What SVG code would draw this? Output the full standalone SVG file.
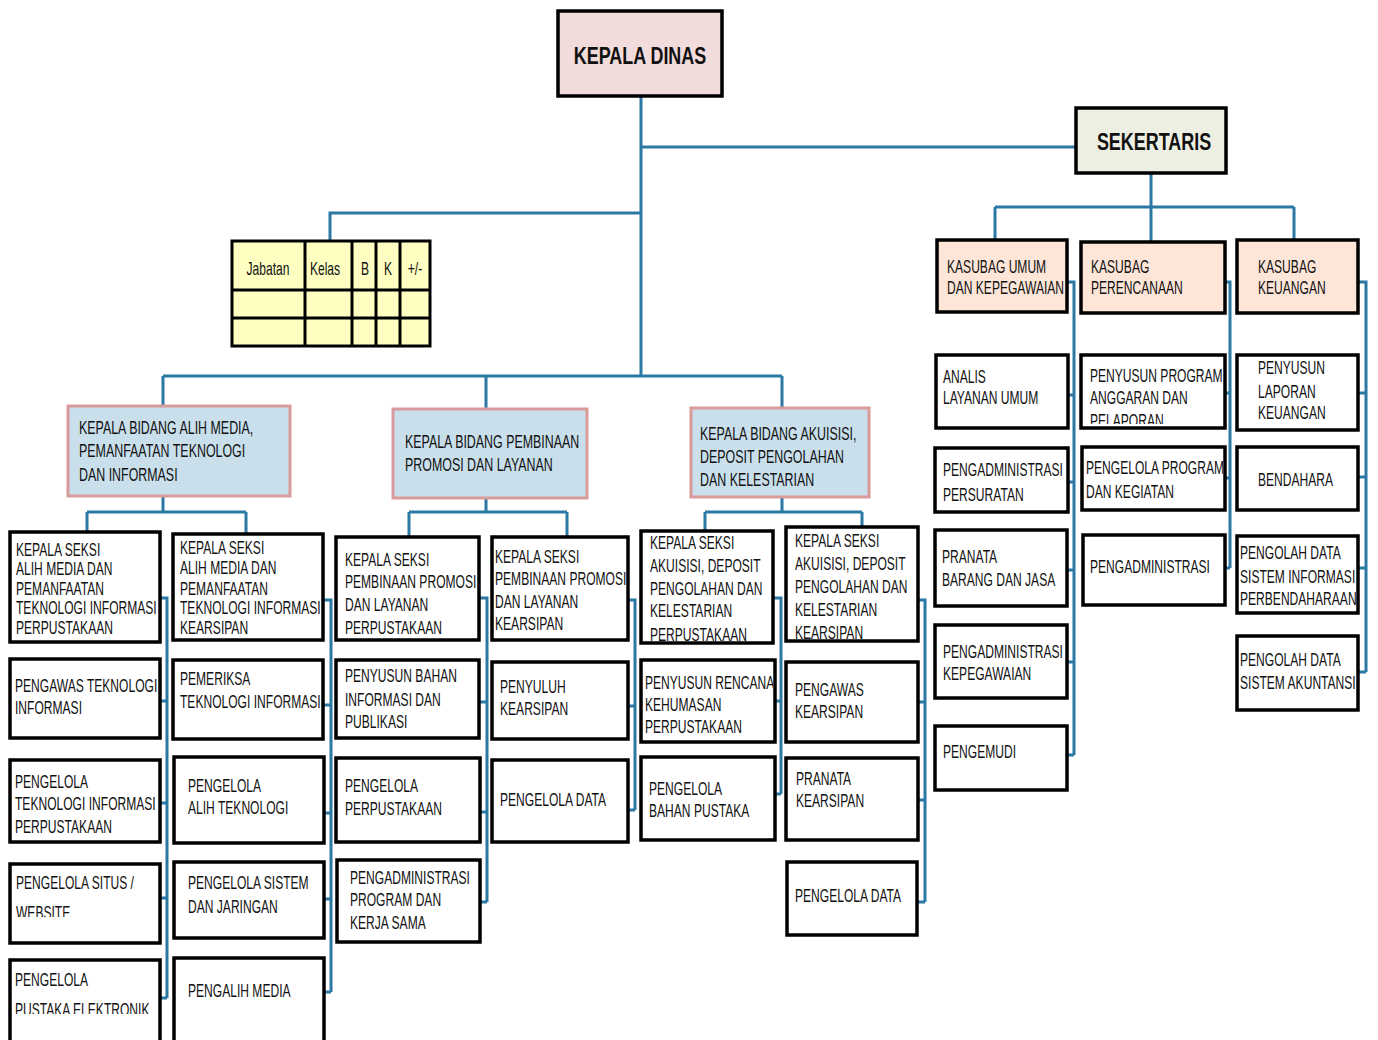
<svg xmlns="http://www.w3.org/2000/svg" width="1378" height="1040" viewBox="0 0 1378 1040">
<style>
.b{fill:#fff;stroke:#000;stroke-width:3.5}
.kd{fill:#f2dcdb;stroke:#000;stroke-width:3.5}
.sk{fill:#eeefe3;stroke:#000;stroke-width:3.5}
.ks{fill:#fde6d8;stroke:#000;stroke-width:3.5}
.bd{fill:#c9dfec;stroke:#d99a9a;stroke-width:3}
.tb{fill:#ffffc2;stroke:#000;stroke-width:3}
.t{font-family:"Liberation Sans Narrow","Arial Narrow","Liberation Sans",sans-serif;font-size:17.5px;fill:#111;transform-box:fill-box;transform-origin:0 50%;transform:scaleX(0.69)}
.tbd{font-size:18px}
.big{font-family:"Liberation Sans Narrow","Arial Narrow","Liberation Sans",sans-serif;font-size:23px;font-weight:bold;fill:#111;text-anchor:middle;transform-box:fill-box;transform-origin:50% 50%;transform:scaleX(0.78)}
.t.mid{text-anchor:middle;transform-origin:50% 50%}
#connectors path{fill:none;stroke:#2b78a5;stroke-width:3}
</style>
<rect width="1378" height="1040" fill="#fff"/>
<g id="connectors">
<path d="M641,96 V376 M641,147 H1076 M641,213 H330 V241 M163,376 H782 M163,376 V406 M486,376 V409 M782,376 V408"/>
<path d="M163,496 V512 M87,512 H246 M87,512 V532 M246,512 V534"/>
<path d="M160,598 H167 V998 M160,701 H167 M160,803 H167 M160,898 H167 M160,998 H167"/>
<path d="M324,600 H331 V992 M324,705 H331 M324,813 H331 M324,899 H331 M324,992 H331"/>
<path d="M486,498 V512 M409,512 H567 M409,512 V537 M567,512 V537"/>
<path d="M479,598 H487 V902 M479,702 H487 M480,812 H487 M480,902 H487"/>
<path d="M628,600 H635 V810 M628,706 H635 M628,810 H635"/>
<path d="M782,497 V512 M705,512 H862 M705,512 V531 M862,512 V527"/>
<path d="M773,598 H781 V794 M775,701 H781 M775,794 H781"/>
<path d="M918,600 H925 V902 M918,702 H925 M918,800 H925 M917,902 H925"/>
<path d="M1151,173 V207 M995,207 H1294 M995,207 V240 M1151,207 V242 M1294,207 V240"/>
<path d="M1067,282 H1074 V755 M1068,395 H1074 M1068,482 H1074 M1067,570 H1074 M1067,662 H1074 M1067,755 H1074"/>
<path d="M1225,282 H1230 V568 M1225,393 H1230 M1225,478 H1230 M1225,568 H1230"/>
<path d="M1358,282 H1366 V672 M1358,393 H1366 M1358,477 H1366 M1358,568 H1366 M1358,672 H1366"/>
</g>

<g id="kepala-dinas"><rect class="kd" x="558" y="11" width="164" height="85"/><text class="big" x="640" y="64">KEPALA DINAS</text></g>
<g id="sekertaris"><rect class="sk" x="1076" y="108" width="150" height="65"/><text class="big" x="1154" y="150">SEKERTARIS</text></g>

<g id="tabel">
<rect class="tb" x="232" y="241" width="198" height="105"/>
<path d="M232,290 H430 M232,318 H430 M305,241 V346 M352,241 V346 M376,241 V346 M400,241 V346" stroke="#000" stroke-width="3" fill="none"/>
<text class="t mid" x="268" y="275">Jabatan</text>
<text class="t mid" x="325" y="275">Kelas</text>
<text class="t mid" x="365" y="275">B</text>
<text class="t mid" x="388" y="275">K</text>
<text class="t mid" x="415" y="275">+/-</text>
</g>

<g id="bidang-1"><rect class="bd" x="68" y="406" width="222" height="90"/><text class="t tbd"><tspan x="79" y="434">KEPALA BIDANG ALIH MEDIA,</tspan><tspan x="79" y="457">PEMANFAATAN TEKNOLOGI</tspan><tspan x="79" y="481">DAN INFORMASI</tspan></text></g>
<g id="bidang-2"><rect class="bd" x="393" y="409" width="194" height="89"/><text class="t tbd"><tspan x="405" y="448">KEPALA BIDANG PEMBINAAN</tspan><tspan x="405" y="471">PROMOSI DAN LAYANAN</tspan></text></g>
<g id="bidang-3"><rect class="bd" x="691" y="408" width="178" height="89"/><text class="t tbd"><tspan x="700" y="440">KEPALA BIDANG AKUISISI,</tspan><tspan x="700" y="463">DEPOSIT PENGOLAHAN</tspan><tspan x="700" y="486">DAN KELESTARIAN</tspan></text></g>

<g id="seksi-1"><rect class="b" x="10" y="532" width="150" height="110"/><svg x="12" y="534" width="146" height="106" viewBox="12 534 146 106"><text class="t"><tspan x="16" y="556">KEPALA SEKSI</tspan><tspan x="16" y="575">ALIH MEDIA DAN</tspan><tspan x="16" y="595">PEMANFAATAN</tspan><tspan x="16" y="614">TEKNOLOGI INFORMASI</tspan><tspan x="16" y="634">PERPUSTAKAAN</tspan></text></svg></g>
<g id="seksi-2"><rect class="b" x="173" y="534" width="150" height="106"/><svg x="175" y="536" width="146" height="102" viewBox="175 536 146 102"><text class="t"><tspan x="180" y="554">KEPALA SEKSI</tspan><tspan x="180" y="574">ALIH MEDIA DAN</tspan><tspan x="180" y="595">PEMANFAATAN</tspan><tspan x="180" y="614">TEKNOLOGI INFORMASI</tspan><tspan x="180" y="634">KEARSIPAN</tspan></text></svg></g>
<g id="pengawas-ti"><rect class="b" x="10" y="659" width="150" height="79"/><svg x="12" y="661" width="146" height="75" viewBox="12 661 146 75"><text class="t"><tspan x="15" y="692">PENGAWAS TEKNOLOGI</tspan><tspan x="15" y="714">INFORMASI</tspan></text></svg></g>
<g id="pengelola-ti"><rect class="b" x="10" y="760" width="150" height="82"/><svg x="12" y="762" width="146" height="78" viewBox="12 762 146 78"><text class="t"><tspan x="15" y="788">PENGELOLA</tspan><tspan x="15" y="810">TEKNOLOGI INFORMASI</tspan><tspan x="15" y="833">PERPUSTAKAAN</tspan></text></svg></g>
<g id="pengelola-situs"><rect class="b" x="10" y="864" width="150" height="79"/><svg x="12" y="866" width="146" height="51" viewBox="12 866 146 51"><text class="t"><tspan x="16" y="889">PENGELOLA SITUS /</tspan><tspan x="16" y="919">WEBSITE</tspan></text></svg></g>
<g id="pengelola-pustaka"><rect class="b" x="10" y="960" width="150" height="82"/><svg x="12" y="962" width="146" height="52" viewBox="12 962 146 52"><text class="t"><tspan x="15" y="986">PENGELOLA</tspan><tspan x="15" y="1016">PUSTAKA ELEKTRONIK</tspan></text></svg></g>
<g id="pemeriksa-ti"><rect class="b" x="173" y="660" width="150" height="79"/><svg x="175" y="662" width="146" height="75" viewBox="175 662 146 75"><text class="t"><tspan x="180" y="685">PEMERIKSA</tspan><tspan x="180" y="708">TEKNOLOGI INFORMASI</tspan></text></svg></g>
<g id="pengelola-alih"><rect class="b" x="174" y="757" width="150" height="86"/><svg x="176" y="759" width="146" height="82" viewBox="176 759 146 82"><text class="t"><tspan x="188" y="792">PENGELOLA</tspan><tspan x="188" y="814">ALIH TEKNOLOGI</tspan></text></svg></g>
<g id="pengelola-sistem"><rect class="b" x="174" y="862" width="150" height="76"/><svg x="176" y="864" width="146" height="72" viewBox="176 864 146 72"><text class="t"><tspan x="188" y="889">PENGELOLA SISTEM</tspan><tspan x="188" y="913">DAN JARINGAN</tspan></text></svg></g>
<g id="pengalih-media"><rect class="b" x="174" y="958" width="150" height="86"/><text class="t" x="188" y="997">PENGALIH MEDIA</text></g>

<g id="seksi-3"><rect class="b" x="336" y="537" width="143" height="103"/><svg x="338" y="539" width="139" height="99" viewBox="338 539 139 99"><text class="t"><tspan x="345" y="566">KEPALA SEKSI</tspan><tspan x="345" y="588">PEMBINAAN PROMOSI</tspan><tspan x="345" y="611">DAN LAYANAN</tspan><tspan x="345" y="634">PERPUSTAKAAN</tspan></text></svg></g>
<g id="seksi-4"><rect class="b" x="492" y="537" width="136" height="103"/><svg x="494" y="539" width="132" height="99" viewBox="494 539 132 99"><text class="t"><tspan x="495" y="563">KEPALA SEKSI</tspan><tspan x="495" y="585">PEMBINAAN PROMOSI</tspan><tspan x="495" y="608">DAN LAYANAN</tspan><tspan x="495" y="630">KEARSIPAN</tspan></text></svg></g>
<g id="penyusun-bahan"><rect class="b" x="336" y="660" width="143" height="78"/><text class="t"><tspan x="345" y="682">PENYUSUN BAHAN</tspan><tspan x="345" y="706">INFORMASI DAN</tspan><tspan x="345" y="728">PUBLIKASI</tspan></text></g>
<g id="pengelola-perpustakaan"><rect class="b" x="336" y="758" width="144" height="84"/><text class="t"><tspan x="345" y="792">PENGELOLA</tspan><tspan x="345" y="815">PERPUSTAKAAN</tspan></text></g>
<g id="pengadministrasi-program"><rect class="b" x="337" y="860" width="143" height="82"/><text class="t"><tspan x="350" y="884">PENGADMINISTRASI</tspan><tspan x="350" y="906">PROGRAM DAN</tspan><tspan x="350" y="929">KERJA SAMA</tspan></text></g>
<g id="penyuluh"><rect class="b" x="492" y="662" width="136" height="77"/><text class="t"><tspan x="500" y="693">PENYULUH</tspan><tspan x="500" y="715">KEARSIPAN</tspan></text></g>
<g id="pengelola-data-1"><rect class="b" x="492" y="760" width="136" height="82"/><text class="t" x="500" y="806">PENGELOLA DATA</text></g>

<g id="seksi-5"><rect class="b" x="641" y="531" width="132" height="112"/><svg x="643" y="533" width="128" height="108" viewBox="643 533 128 108"><text class="t"><tspan x="650" y="549">KEPALA SEKSI</tspan><tspan x="650" y="572">AKUISISI, DEPOSIT</tspan><tspan x="650" y="595">PENGOLAHAN DAN</tspan><tspan x="650" y="617">KELESTARIAN</tspan><tspan x="650" y="641">PERPUSTAKAAN</tspan></text></svg></g>
<g id="seksi-6"><rect class="b" x="786" y="527" width="132" height="114"/><svg x="788" y="529" width="128" height="110" viewBox="788 529 128 110"><text class="t"><tspan x="795" y="547">KEPALA SEKSI</tspan><tspan x="795" y="570">AKUISISI, DEPOSIT</tspan><tspan x="795" y="593">PENGOLAHAN DAN</tspan><tspan x="795" y="616">KELESTARIAN</tspan><tspan x="795" y="639">KEARSIPAN</tspan></text></svg></g>
<g id="penyusun-rencana"><rect class="b" x="641" y="660" width="134" height="82"/><svg x="643" y="662" width="130" height="78" viewBox="643 662 130 78"><text class="t"><tspan x="645" y="689">PENYUSUN RENCANA</tspan><tspan x="645" y="711">KEHUMASAN</tspan><tspan x="645" y="733">PERPUSTAKAAN</tspan></text></svg></g>
<g id="pengelola-bahan"><rect class="b" x="641" y="757" width="134" height="83"/><text class="t"><tspan x="649" y="795">PENGELOLA</tspan><tspan x="649" y="817">BAHAN PUSTAKA</tspan></text></g>
<g id="pengawas-kearsipan"><rect class="b" x="786" y="662" width="132" height="80"/><text class="t"><tspan x="795" y="696">PENGAWAS</tspan><tspan x="795" y="718">KEARSIPAN</tspan></text></g>
<g id="pranata-kearsipan"><rect class="b" x="786" y="758" width="132" height="82"/><text class="t"><tspan x="796" y="785">PRANATA</tspan><tspan x="796" y="807">KEARSIPAN</tspan></text></g>
<g id="pengelola-data-2"><rect class="b" x="787" y="862" width="130" height="73"/><text class="t" x="795" y="902">PENGELOLA DATA</text></g>

<g id="kasubag-umum"><rect class="ks" x="937" y="240" width="130" height="72"/><svg x="939" y="242" width="126" height="68" viewBox="939 242 126 68"><text class="t"><tspan x="947" y="273">KASUBAG UMUM</tspan><tspan x="947" y="294">DAN KEPEGAWAIAN</tspan></text></svg></g>
<g id="kasubag-perencanaan"><rect class="ks" x="1081" y="242" width="144" height="71"/><text class="t"><tspan x="1091" y="273">KASUBAG</tspan><tspan x="1091" y="294">PERENCANAAN</tspan></text></g>
<g id="kasubag-keuangan"><rect class="ks" x="1237" y="240" width="121" height="73"/><text class="t"><tspan x="1258" y="273">KASUBAG</tspan><tspan x="1258" y="294">KEUANGAN</tspan></text></g>

<g id="analis"><rect class="b" x="936" y="355" width="132" height="73"/><text class="t"><tspan x="943" y="383">ANALIS</tspan><tspan x="943" y="404">LAYANAN UMUM</tspan></text></g>
<g id="penyusun-program"><rect class="b" x="1081" y="355" width="144" height="73"/><svg x="1083" y="357" width="140" height="67" viewBox="1083 357 140 67"><text class="t"><tspan x="1090" y="382">PENYUSUN PROGRAM</tspan><tspan x="1090" y="404">ANGGARAN DAN</tspan><tspan x="1090" y="427">PELAPORAN</tspan></text></svg></g>
<g id="penyusun-laporan"><rect class="b" x="1237" y="355" width="121" height="75"/><text class="t"><tspan x="1258" y="374">PENYUSUN</tspan><tspan x="1258" y="398">LAPORAN</tspan><tspan x="1258" y="419">KEUANGAN</tspan></text></g>
<g id="pengadministrasi-persuratan"><rect class="b" x="935" y="448" width="133" height="64"/><svg x="937" y="450" width="129" height="60" viewBox="937 450 129 60"><text class="t"><tspan x="943" y="476">PENGADMINISTRASI</tspan><tspan x="943" y="501">PERSURATAN</tspan></text></svg></g>
<g id="pengelola-program"><rect class="b" x="1082" y="447" width="143" height="63"/><svg x="1084" y="449" width="139" height="59" viewBox="1084 449 139 59"><text class="t"><tspan x="1086" y="474">PENGELOLA PROGRAM</tspan><tspan x="1086" y="498">DAN KEGIATAN</tspan></text></svg></g>
<g id="bendahara"><rect class="b" x="1237" y="447" width="121" height="63"/><text class="t" x="1258" y="486">BENDAHARA</text></g>
<g id="pranata-barang"><rect class="b" x="935" y="530" width="132" height="76"/><text class="t"><tspan x="942" y="563">PRANATA</tspan><tspan x="942" y="586">BARANG DAN JASA</tspan></text></g>
<g id="pengadministrasi"><rect class="b" x="1083" y="535" width="142" height="70"/><text class="t" x="1090" y="573">PENGADMINISTRASI</text></g>
<g id="pengolah-data-sip"><rect class="b" x="1237" y="536" width="121" height="77"/><svg x="1239" y="538" width="117" height="73" viewBox="1239 538 117 73"><text class="t"><tspan x="1240" y="559">PENGOLAH DATA</tspan><tspan x="1240" y="583">SISTEM INFORMASI</tspan><tspan x="1240" y="605">PERBENDAHARAAN</tspan></text></svg></g>
<g id="pengadministrasi-kepegawaian"><rect class="b" x="935" y="625" width="132" height="73"/><svg x="937" y="627" width="128" height="69" viewBox="937 627 128 69"><text class="t"><tspan x="943" y="658">PENGADMINISTRASI</tspan><tspan x="943" y="680">KEPEGAWAIAN</tspan></text></svg></g>
<g id="pengolah-data-sa"><rect class="b" x="1237" y="636" width="121" height="74"/><svg x="1239" y="638" width="117" height="70" viewBox="1239 638 117 70"><text class="t"><tspan x="1240" y="666">PENGOLAH DATA</tspan><tspan x="1240" y="689">SISTEM AKUNTANSI</tspan></text></svg></g>
<g id="pengemudi"><rect class="b" x="935" y="726" width="132" height="64"/><text class="t" x="943" y="758">PENGEMUDI</text></g>
</svg>
